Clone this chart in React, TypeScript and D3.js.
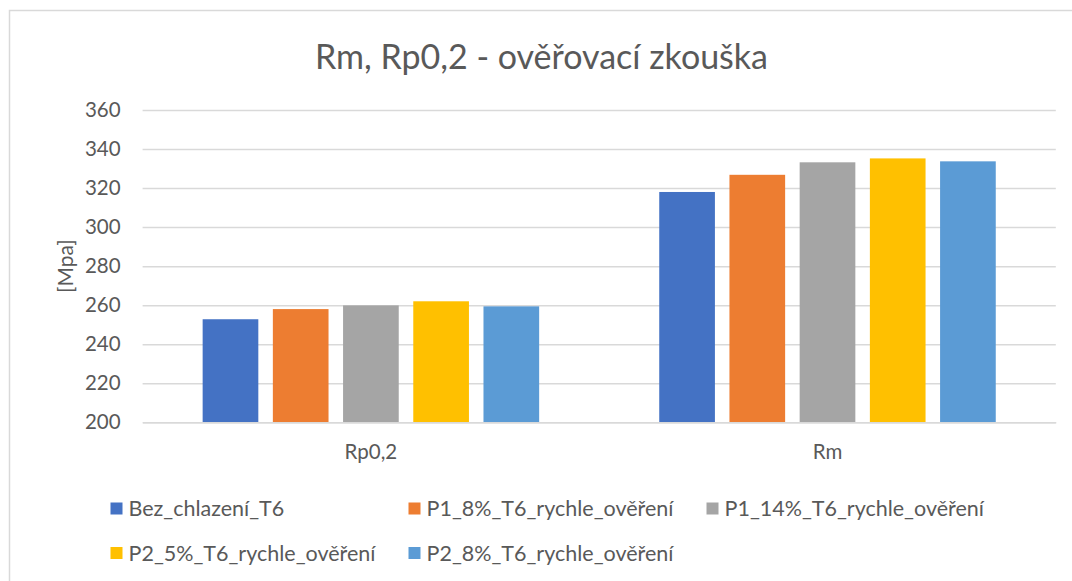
import React, { useRef, useEffect, useCallback } from 'react'
import * as d3 from 'd3'

const categories = ['Rp0,2', 'Rm']
const seriesNames = [
    'Bez_chlazení_T6',
    'P1_8%_T6_rychle_ověření',
    'P1_14%_T6_rychle_ověření',
    'P2_5%_T6_rychle_ověření',
    'P2_8%_T6_rychle_ověření',
]
const seriesColors = ['#4472C4', '#ED7D31', '#A5A5A5', '#FFC000', '#5B9BD5']
// one array per series: [Rp0,2, Rm]
const bezChlazeni = [252.8, 318.0]
const p1_8 = [258.0, 326.8]
const p1_14 = [259.9, 333.2]
const p2_5 = [262.0, 335.2]
const p2_8 = [259.4, 333.7]
const seriesValues = [bezChlazeni, p1_8, p1_14, p2_5, p2_8]
const yTicks = [200, 220, 240, 260, 280, 300, 320, 340, 360]
const chartTitle = 'Rm, Rp0,2 - ověřovací zkouška'
const yTitle = '[Mpa]'

const FONT = 'Lato, "Open Sans", sans-serif'
const TEXT = '#595959'

const App = () => {
    const chartRef = useRef<HTMLDivElement | null>(null)

    const drawChart = useCallback(() => {
        if (!chartRef.current) return
        const width = 1072
        const height = 581

        const svg = d3.select(chartRef.current)
            .append('svg')
            .attr('width', width)
            .attr('height', height)
            .style('display', 'block')

        svg.append('rect')
            .attr('width', width).attr('height', height)
            .attr('fill', '#fff')

        // chart frame (runs off the right and bottom edge)
        svg.append('rect')
            .attr('x', 9.5).attr('y', 10.5)
            .attr('width', width + 20).attr('height', height + 20)
            .attr('fill', 'none')
            .attr('stroke', '#D9D9D9')
            .attr('stroke-width', 1.5)

        const left = 142.6, right = 1055.8, top = 110, bottom = 422.3

        const x = d3.scaleBand<string>()
            .domain(categories)
            .range([left, right])
            .paddingInner(0.263)
            .paddingOuter(0.1315)

        const xs = d3.scaleBand<number>()
            .domain(d3.range(seriesNames.length))
            .range([0, x.bandwidth()])
            .paddingInner(0.207)

        const y = d3.scaleLinear()
            .domain([200, 360])
            .range([bottom, top])

        // gridlines + tick labels
        const yAxis = svg.append('g')
            .attr('transform', `translate(${left},0)`)
            .call(d3.axisLeft(y)
                .tickValues(yTicks)
                .tickSize(-(right - left))
                .tickPadding(22)
            )
        yAxis.select('.domain').remove()
        yAxis.selectAll('.tick line')
            .attr('stroke', '#D9D9D9')
            .attr('stroke-width', 1.5)
        yAxis.selectAll('.tick text')
            .attr('fill', TEXT)
            .style('font-family', FONT)
            .style('font-size', '20.5px')

        // bars
        const groups = svg.append('g')
            .selectAll('g')
            .data(seriesValues)
            .join('g')
            .attr('fill', (_, i) => seriesColors[i])

        groups.selectAll('rect')
            .data((vals, si) => vals.map((v, ci) => ({ v, ci, si })))
            .join('rect')
            .attr('x', d => (x(categories[d.ci]) as number) + (xs(d.si) as number))
            .attr('y', d => y(d.v))
            .attr('width', xs.bandwidth())
            .attr('height', d => bottom - y(d.v))

        // category axis
        const xAxis = svg.append('g')
            .attr('transform', `translate(0,${bottom})`)
            .call(d3.axisBottom(x).tickSize(0).tickPadding(22))
        xAxis.select('.domain')
            .attr('stroke', '#D9D9D9')
            .attr('stroke-width', 1.5)
        xAxis.selectAll('.tick text')
            .attr('fill', TEXT)
            .style('font-family', FONT)
            .style('font-size', '20.5px')

        // title
        svg.append('text')
            .attr('x', 541.5)
            .attr('y', 69)
            .attr('text-anchor', 'middle')
            .attr('fill', TEXT)
            .style('font-family', FONT)
            .style('font-size', '34px')
            .text(chartTitle)

        // y axis title
        svg.append('text')
            .attr('transform', `translate(73,${(top + bottom) / 2}) rotate(-90)`)
            .attr('text-anchor', 'middle')
            .attr('fill', TEXT)
            .style('font-family', FONT)
            .style('font-size', '21px')
            .text(yTitle)

        // legend: 3 columns
        const colX = [110.5, 408.5, 706.5]
        const rowY = [508.5, 553]
        const legend = svg.append('g')
            .selectAll('g')
            .data(seriesNames)
            .join('g')
            .attr('transform', (_, i) => `translate(${colX[i % 3]},${rowY[Math.floor(i / 3)]})`)
        legend.append('rect')
            .attr('x', 0).attr('y', -6)
            .attr('width', 12).attr('height', 12)
            .attr('fill', (_, i) => seriesColors[i])
        legend.append('text')
            .attr('x', 18)
            .attr('dy', '0.35em')
            .attr('fill', TEXT)
            .style('font-family', FONT)
            .style('font-size', '21.5px')
            .text(d => d)
    }, [])

    const destroyChart = useCallback(() => {
        if (chartRef.current) {
            d3.select(chartRef.current).select('svg').remove()
        }
    }, [])

    useEffect(() => {
        drawChart()
        return () => destroyChart()
    }, [drawChart, destroyChart])

    return (
        <div ref={chartRef} style={{ position: 'absolute', left: 0, top: 0, width: 1072, height: 581 }}></div>
    )
}

export default App
